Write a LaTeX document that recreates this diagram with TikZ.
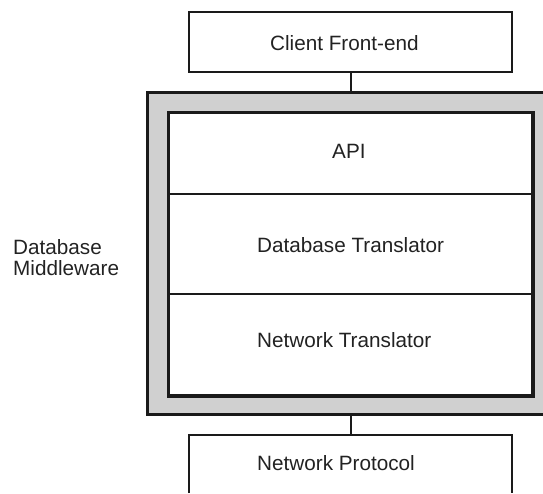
\documentclass[tikz,border=0pt]{standalone}
\usepackage{fontspec}
\setmainfont{Liberation Sans}
\definecolor{linec}{HTML}{1A1A1A}
\definecolor{textc}{HTML}{222222}
\definecolor{mwgray}{HTML}{D0D0D0}
\begin{document}
\begin{tikzpicture}[x=1pt,y=-1pt,
  box/.style={draw=linec,line width=2pt,fill=white,inner sep=0pt},
  layer/.style={draw=linec,line width=2pt,fill=white,inner sep=0pt},
  lbl/.style={anchor=base west,inner sep=0pt,text=textc,font=\fontsize{20.7}{21}\selectfont},
  conn/.style={draw=linec,line width=2pt}]
\useasboundingbox (0,0) rectangle (543,493);
% middleware gray panel
\node[fill=mwgray,inner sep=0pt,minimum width=395pt,minimum height=321pt] (mw) at (345.5,253.5) {};
\draw[linec,line width=3pt] (mw.north east) -- (mw.north west) -- (mw.south west) -- (mw.south east);
% layers
\node[layer,minimum width=363pt,minimum height=81pt] (api) at (350.5,153.5) {};
\node[layer,minimum width=363pt,minimum height=100pt] (dbt) at (350.5,244) {};
\node[layer,minimum width=363pt,minimum height=101pt] (nt) at (350.5,344.5) {};
\draw[linec,line width=3pt] (api.north west) rectangle (nt.south east);
% client
\node[box,minimum width=323pt,minimum height=60pt] (client) at (350.5,42) {};
\draw[conn] (client.south) -- (client.south |- mw.north);
% network protocol (open at bottom)
\coordinate (npnw) at (189,435);
\coordinate (npne) at (512,435);
\coordinate (npsw) at (189,493);
\coordinate (npse) at (512,493);
\draw[linec,line width=2pt] (npsw) -- (npnw) -- (npne) -- (npse);
\draw[conn] (client.south |- mw.south) -- (client.south |- npnw);
% labels
\node[lbl] (tclient) at (270,50) {Client Front-end};
\node[lbl] (tapi) at (332,158) {API};
\node[lbl] (tdbt) at (257,252) {Database Translator};
\node[lbl] (tnt) at (257,347) {Network Translator};
\node[lbl] (tnp) at (257,470) {Network Protocol};
\node[lbl] (tdm1) at (13,254) {Database};
\node[lbl] (tdm2) at (13,275) {Middleware};
\end{tikzpicture}
\end{document}
